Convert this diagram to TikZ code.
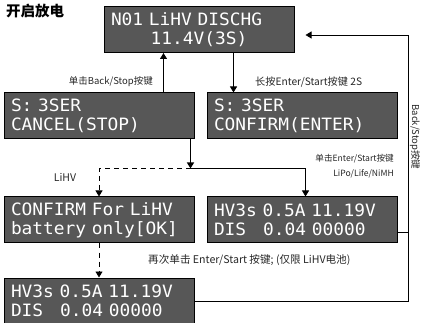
\documentclass[tikz,border=0pt]{standalone}
\usepackage{fontspec}
\usepackage{tikz}
\usetikzlibrary{arrows.meta,positioning,calc}
\newfontfamily\cjk{Noto Sans CJK SC}
\newfontfamily\lcdfont[FakeStretch=1.05]{DejaVu Sans Mono}
\definecolor{lcdgray}{HTML}{575757}
\definecolor{notegray}{HTML}{262626}

\begin{document}
\begin{tikzpicture}[
  x=1pt, y=-1pt,
  lcd/.style={draw=black, fill=lcdgray, text=white, line width=1pt, text width=176pt, minimum height=46pt, inner xsep=7pt, inner ysep=0pt, align=left, font=\lcdfont\fontsize{17}{19}\selectfont},
  note/.style={font=\cjk\fontsize{#1}{15}\selectfont, text=notegray, inner sep=0pt},
  note/.default=9.5,
  arr/.style={-{Triangle[length=6pt,width=7pt]}, line width=0.8pt},
]
\useasboundingbox (0,0) rectangle (423,323);
\node[font=\cjk\bfseries\fontsize{14.5}{16}\selectfont, anchor=west, inner sep=0pt] (title) at (6,11) {开启放电};
% screens
\node[lcd] (b1) at (199,29.5) {N01 LiHV DISCHG\\~~~~~~~11.4V(3S)};
\node[lcd] (b2) at (99,116) {S: 3SER\\CANCEL(STOP)};
\node[lcd, right=12pt of b2] (b3) {S: 3SER\\CONFIRM(ENTER)};
\node[lcd, below=57pt of b2] (b4) {CONFIRM For LiHV\\battery only[OK]};
\node[lcd, right=12pt of b4] (b5) {HV3s 0.5A 11.19V\\DIS~~~0.04~00000};
\node[lcd, below=34pt of b4] (b6) {HV3s 0.5A 11.19V\\DIS~~~0.04~00000};
% helper points
\coordinate (rail) at (408,0);
\coordinate (up) at ([xshift=-31pt]b2.north east);
\coordinate (dn) at ([xshift=27pt]b3.north west);
\coordinate (drop) at ([xshift=-4pt]b2.south east);
\coordinate (fork) at ([yshift=-29pt]drop);
\coordinate (lipo) at ([xshift=3.5pt]b5.north);
\coordinate (hv) at ([yshift=11pt]b5.south east);
\coordinate (tip) at ([xshift=11pt,yshift=-5.5pt]b1.east);
% arrows
\draw[arr] (up) -- (up |- b1.south);
\draw[arr] (dn |- b1.south) -- (dn);
\draw[arr, line width=1.4pt] (drop) -- (fork);
\draw[arr] (fork) -| (lipo);
\draw[arr, dash pattern=on 5pt off 4pt] (fork) -| (b4.north);
\draw[arr, dash pattern=on 5pt off 4pt] (b4.south) -- (b6.north);
\draw[line width=0.8pt] (hv) -- (hv -| rail);
\draw[arr] (b6.east) -- (b6.east -| rail) -- (rail |- tip) -- (tip);
% labels
\node[note, anchor=east] (l1) at (153,82) {单击Back/Stop按键};
\node[note=10.2, anchor=west] (l2) at (255,82) {长按Enter/Start按键 2S};
\node[note=8.6, anchor=east, align=right] (l3) at (394,166) {单击Enter/Start按键\\LiPo/Life/NiMH};
\node[note=10.5] (l4) at (65,177) {LiHV};
\node[note=10.6, anchor=west] (l5) at (148,260) {再次单击 Enter/Start 按键; (仅限 LiHV电池)};
\node[note, rotate=-90] (l6) at (415,137) {Back/Stop按键};
\end{tikzpicture}
\end{document}
